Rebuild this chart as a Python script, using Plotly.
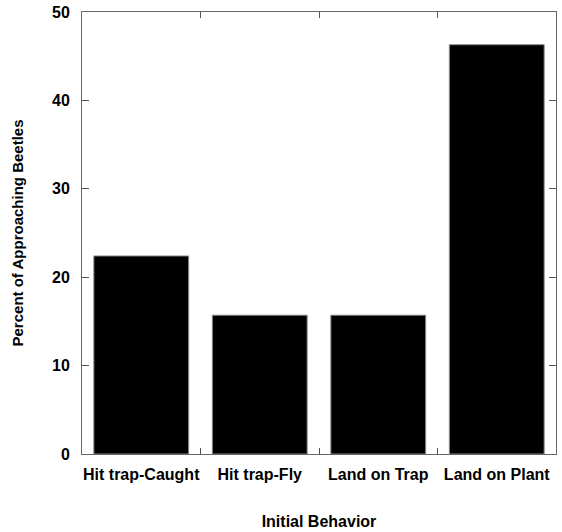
import plotly.graph_objects as go

categories = ["Hit trap-Caught", "Hit trap-Fly", "Land on Trap", "Land on Plant"]
percent = [22.4, 15.7, 15.7, 46.3]
y_ticks = [0, 10, 20, 30, 40, 50]

fig = go.Figure(go.Bar(
    x=categories, y=percent,
    marker=dict(color="black", line=dict(color="#888888", width=1)),
    width=0.8,
))

font = "Liberation Sans, Arial, sans-serif"
fig.update_layout(
    width=562, height=532,
    margin=dict(l=82, r=6, t=12, b=78, autoexpand=False),
    plot_bgcolor="white", paper_bgcolor="white",
    showlegend=False,
    font=dict(family=font, color="black"),
    xaxis=dict(
        range=[-0.5, 3.5], tickson="boundaries", automargin=False, tickangle=0,
        ticks="inside", ticklen=6, tickcolor="#555555", tickwidth=1,
        showline=True, linecolor="#666666", linewidth=1, mirror="ticks",
        showgrid=False, zeroline=False, ticklabelstandoff=6, ticklabeloverflow="allow",
        tickfont=dict(size=16, family=font, color="black", weight="bold"),
        title=dict(text="<b>Initial Behavior</b>", font=dict(size=16, family=font), standoff=33),
    ),
    yaxis=dict(
        range=[0, 50], tickvals=y_ticks, automargin=False,
        ticks="inside", ticklen=7, tickcolor="#555555", tickwidth=1,
        showline=True, linecolor="#666666", linewidth=1, mirror="ticks",
        showgrid=False, zeroline=False, ticklabelstandoff=8, ticklabeloverflow="allow",
        tickfont=dict(size=16, family=font, color="black", weight="bold"),
        title=dict(text="<b>Percent of Approaching Beetles</b>", font=dict(size=15, family=font), standoff=24),
    ),
)

fig.write_html("out.html", config={"displayModeBar": False},
               post_script="document.body.style.margin='0';")
